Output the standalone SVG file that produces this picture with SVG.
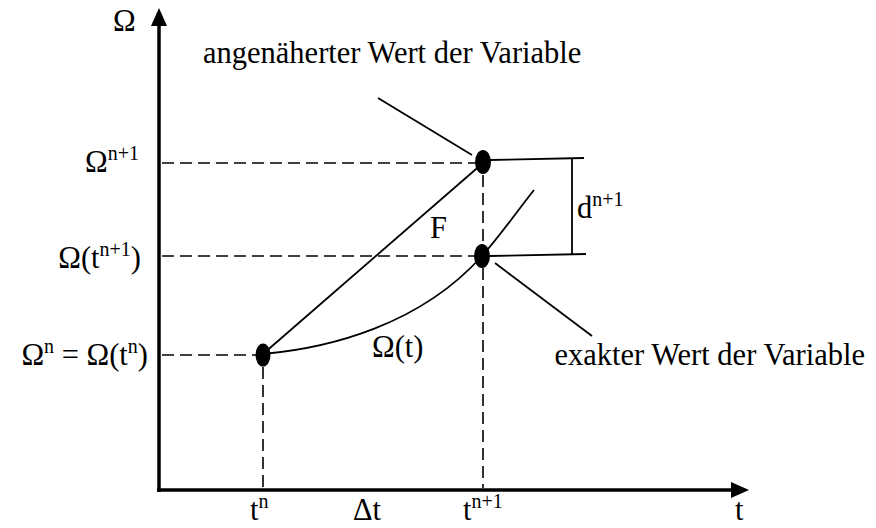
<svg xmlns="http://www.w3.org/2000/svg" width="876" height="528" viewBox="0 0 876 528">
<style>
text{font-family:"Liberation Serif","Times New Roman",serif;font-size:30.5px;fill:#000}
.sup{font-size:20px}
.axis{stroke:#000;stroke-width:3.5;fill:none}
.dash{stroke:#000;stroke-width:1.6;stroke-dasharray:12 6;fill:none}
.line{stroke:#000;stroke-width:1.8;fill:none}
.dot{fill:#000}
</style>
<rect width="876" height="528" fill="#fff"/>
<g id="axes">
<line class="axis" x1="159" y1="492" x2="159" y2="24"/>
<polygon points="159,8 151,26 167,26" fill="#000"/>
<line class="axis" x1="157" y1="490" x2="733" y2="490"/>
<polygon points="749,490 731,482 731,498" fill="#000"/>
</g>
<g id="connectors">
<line class="dash" x1="162" y1="163" x2="476" y2="163"/>
<line class="dash" x1="162" y1="256" x2="475" y2="256"/>
<line class="dash" x1="162" y1="355" x2="256" y2="355"/>
<line class="dash" x1="263" y1="367" x2="263" y2="488"/>
<line class="dash" x1="483" y1="175" x2="483" y2="244"/>
<line class="dash" x1="483" y1="268" x2="483" y2="488"/>
<line class="line" x1="263" y1="354" x2="483" y2="163"/>
<path class="line" d="M263,354 C330,348 420,325 482,256 C500,236 518,210 534,190"/>
<line class="line" x1="378" y1="98" x2="472" y2="155"/>
<line class="line" x1="495" y1="263" x2="592" y2="336"/>
<line class="line" x1="489" y1="160" x2="584" y2="158"/>
<line class="line" x1="489" y1="256" x2="586" y2="254"/>
<line class="line" x1="572" y1="159" x2="572" y2="255"/>
</g>
<g id="p1"><ellipse class="dot" cx="263" cy="355" rx="7.5" ry="11.5"/></g>
<g id="p2"><ellipse class="dot" cx="483" cy="162" rx="8" ry="12"/></g>
<g id="p3"><ellipse class="dot" cx="482" cy="256" rx="8" ry="12"/></g>
<g id="labels">
<text x="113" y="31">Ω</text>
<text x="203" y="63">angenäherter Wert der Variable</text>
<text x="865" y="365" text-anchor="end">exakter Wert der Variable</text>
<text x="139" y="172" text-anchor="end">Ω<tspan class="sup" dy="-12">n+1</tspan></text>
<text x="141" y="268" text-anchor="end">Ω(t<tspan class="sup" dy="-12">n+1</tspan><tspan dy="12">)</tspan></text>
<text x="148" y="365" text-anchor="end">Ω<tspan class="sup" dy="-12">n</tspan><tspan dy="12"> = Ω(t</tspan><tspan class="sup" dy="-12">n</tspan><tspan dy="12">)</tspan></text>
<text x="430" y="238">F</text>
<text x="577" y="218">d<tspan class="sup" dy="-12">n+1</tspan></text>
<text x="372" y="357">Ω(t)</text>
<text x="250" y="520">t<tspan class="sup" dy="-12">n</tspan></text>
<text x="353" y="520">Δt</text>
<text x="463" y="520">t<tspan class="sup" dy="-12">n+1</tspan></text>
<text x="735" y="520">t</text>
</g>
</svg>
